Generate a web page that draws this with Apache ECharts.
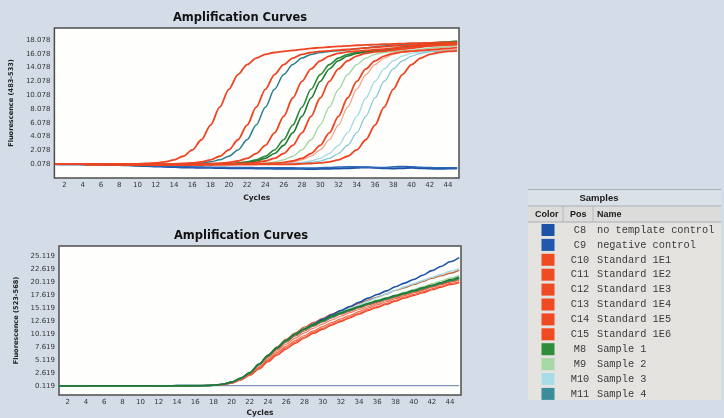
<!DOCTYPE html>
<html><head><meta charset="utf-8">
<script src="https://cdn.jsdelivr.net/npm/echarts@6/dist/echarts.min.js"></script>
<style>html,body{margin:0;padding:0;background:#d4dde7;}#chart{width:724px;height:418px;}</style>
</head><body><div id="chart"></div>
<script>
// ---------- data ----------
const cycles = [1,2,3,4,5,6,7,8,9,10,11,12,13,14,15,16,17,18,19,20,21,22,23,24,25,26,27,28,29,30,31,32,33,34,35,36,37,38,39,40,41,42,43,44,45];
const xTickLabels = [2,4,6,8,10,12,14,16,18,20,22,24,26,28,30,32,34,36,38,40,42,44];
const topYTicks = [0.078,2.078,4.078,6.078,8.078,10.078,12.078,14.078,16.078,18.078];
const botYTicks = [0.119,2.619,5.119,7.619,10.119,12.619,15.119,17.619,20.119,22.619,25.119];

const samplePos = ['C8','C9','C10','C11','C12','C13','C14','C15','M8','M9','M10','M11'];
const sampleNames = ['no template control','negative control','Standard 1E1','Standard 1E2','Standard 1E3','Standard 1E4','Standard 1E5','Standard 1E6','Sample 1','Sample 2','Sample 3','Sample 4'];
const sampleColors = ['#1d52a6','#1f58ac','#f04a22','#f04a22','#f04a22','#f04a22','#f04a22','#f04a22','#2e8c3a','#a6d8a6','#a8dce6','#3b8d9c'];

// top panel (483-533)
const topC8 = [0.06,0.05,0.05,0.04,0.03,0.02,0.0,-0.05,-0.1,-0.15,-0.2,-0.25,-0.3,-0.35,-0.4,-0.42,-0.45,-0.45,-0.48,-0.5,-0.5,-0.52,-0.55,-0.55,-0.58,-0.6,-0.6,-0.6,-0.62,-0.6,-0.58,-0.55,-0.5,-0.45,-0.4,-0.45,-0.5,-0.55,-0.5,-0.45,-0.5,-0.55,-0.6,-0.55,-0.5];
const topC9 = [0.05,0.04,0.04,0.03,0.02,0.0,-0.03,-0.06,-0.1,-0.13,-0.17,-0.2,-0.24,-0.27,-0.3,-0.33,-0.35,-0.37,-0.38,-0.4,-0.4,-0.42,-0.43,-0.44,-0.45,-0.45,-0.46,-0.47,-0.48,-0.45,-0.4,-0.35,-0.3,-0.3,-0.35,-0.4,-0.42,-0.3,-0.25,-0.3,-0.38,-0.42,-0.45,-0.45,-0.45];
const topStd1E6 = [0.08,0.08,0.08,0.07,0.07,0.06,0.06,0.05,0.06,0.13,0.17,0.25,0.41,0.70,1.22,2.13,3.61,5.74,8.33,10.92,13.05,14.5,15.44,15.97,16.25,16.41,16.55,16.7,16.85,16.95,17.05,17.15,17.2,17.3,17.35,17.4,17.45,17.5,17.55,17.6,17.6,17.65,17.7,17.7,17.75];
const topStd1E5 = [0.08,0.08,0.07,0.07,0.06,0.05,0.04,0.03,0.03,0.03,0.04,0.05,0.06,0.13,0.17,0.25,0.41,0.70,1.22,2.13,3.61,5.74,8.33,10.92,13.05,14.5,15.44,15.97,16.25,16.41,16.49,16.6,16.7,16.8,16.9,17.0,17.1,17.2,17.25,17.3,17.35,17.4,17.45,17.5,17.5];
const topSample4 = [0.08,0.08,0.08,0.07,0.07,0.06,0.05,0.04,0.03,0.02,0.02,0.03,0.04,0.05,0.13,0.17,0.25,0.41,0.70,1.22,2.13,3.61,5.74,8.33,10.92,13.05,14.5,15.44,15.97,16.25,16.41,16.49,16.65,16.8,16.95,17.1,17.2,17.3,17.4,17.5,17.6,17.65,17.7,17.75,17.8];
const topStd1E4 = [0.08,0.08,0.07,0.07,0.06,0.05,0.04,0.03,0.02,0.01,0.0,0.0,0.01,0.02,0.03,0.04,0.06,0.15,0.205,0.32,0.53,0.92,1.62,2.79,4.60,7.0,9.66,12.06,13.87,15.05,15.74,16.13,16.34,16.45,16.55,16.65,16.75,16.85,16.95,17.05,17.15,17.25,17.3,17.35,17.4];
const topSample1a = [0.08,0.08,0.08,0.07,0.06,0.05,0.04,0.03,0.02,0.02,0.01,0.01,0.01,0.02,0.03,0.04,0.05,0.06,0.13,0.17,0.25,0.41,0.70,1.22,2.13,3.61,5.74,8.33,10.92,13.05,14.5,15.44,15.97,16.25,16.41,16.49,16.65,16.85,17.05,17.25,17.4,17.55,17.7,17.8,17.9];
const topSample1b = [0.08,0.08,0.08,0.07,0.06,0.05,0.04,0.03,0.02,0.02,0.01,0.01,0.01,0.02,0.03,0.03,0.04,0.05,0.06,0.15,0.205,0.32,0.53,0.92,1.62,2.79,4.60,7.0,9.66,12.06,13.87,15.05,15.74,16.13,16.34,16.45,16.6,16.8,17.0,17.15,17.3,17.45,17.55,17.65,17.7];
const topStd1E3 = [0.08,0.08,0.07,0.07,0.06,0.05,0.04,0.03,0.02,0.01,0.0,-0.01,-0.01,0.0,0.01,0.02,0.03,0.04,0.05,0.06,0.15,0.205,0.32,0.53,0.92,1.62,2.79,4.60,7.0,9.66,12.06,13.87,15.05,15.74,16.13,16.34,16.45,16.6,16.75,16.9,17.05,17.2,17.3,17.4,17.5];
const topSample2 = [0.08,0.08,0.08,0.07,0.07,0.06,0.05,0.04,0.03,0.02,0.02,0.01,0.01,0.01,0.02,0.02,0.03,0.04,0.05,0.05,0.06,0.13,0.17,0.25,0.41,0.70,1.22,2.13,3.61,5.74,8.33,10.92,13.05,14.5,15.44,15.97,16.25,16.41,16.49,16.6,16.75,16.9,17.0,17.1,17.2];
const topStd1E2 = [0.08,0.08,0.07,0.07,0.06,0.05,0.04,0.03,0.02,0.01,0.0,-0.01,-0.02,-0.02,-0.01,0.0,0.01,0.02,0.03,0.04,0.05,0.05,0.06,0.15,0.205,0.32,0.53,0.92,1.62,2.79,4.60,7.0,9.66,12.06,13.87,15.05,15.74,16.13,16.34,16.45,16.55,16.65,16.75,16.85,16.95];
const topStd1E2b = [0.08,0.08,0.07,0.07,0.06,0.05,0.04,0.03,0.02,0.01,0.0,-0.01,-0.02,-0.02,-0.01,0.0,0.01,0.02,0.03,0.04,0.05,0.05,0.06,0.13,0.17,0.25,0.41,0.70,1.22,2.13,3.61,5.74,8.33,10.92,13.05,14.5,15.44,15.97,16.25,16.41,16.49,16.55,16.6,16.65,16.7];
const topSample3a = [0.08,0.08,0.08,0.07,0.07,0.06,0.05,0.04,0.03,0.02,0.02,0.01,0.01,0.01,0.01,0.02,0.02,0.03,0.03,0.04,0.04,0.05,0.05,0.06,0.06,0.15,0.205,0.32,0.53,0.92,1.62,2.79,4.60,7.0,9.66,12.06,13.87,15.05,15.74,16.13,16.34,16.45,16.55,16.6,16.65];
const topSample3b = [0.08,0.08,0.08,0.07,0.07,0.06,0.05,0.04,0.03,0.02,0.02,0.01,0.01,0.01,0.01,0.02,0.02,0.03,0.03,0.04,0.04,0.05,0.05,0.06,0.06,0.06,0.15,0.205,0.32,0.53,0.92,1.62,2.79,4.60,7.0,9.66,12.06,13.87,15.05,15.74,16.13,16.34,16.45,16.5,16.55];
const topStd1E1 = [0.08,0.08,0.07,0.07,0.06,0.05,0.04,0.03,0.02,0.01,0.0,-0.01,-0.02,-0.03,-0.03,-0.02,-0.01,0.0,0.01,0.02,0.03,0.03,0.04,0.04,0.05,0.05,0.06,0.13,0.17,0.25,0.41,0.70,1.22,2.13,3.61,5.74,8.33,10.92,13.05,14.5,15.44,15.97,16.25,16.41,16.49];

// bottom panel (523-568)
const botC8 = [0.119,0.119,0.119,0.119,0.119,0.119,0.119,0.119,0.119,0.119,0.119,0.119,0.119,0.119,0.119,0.119,0.119,0.119,0.119,0.119,0.119,0.119,0.119,0.119,0.119,0.119,0.119,0.119,0.119,0.119,0.119,0.119,0.119,0.119,0.119,0.119,0.119,0.119,0.119,0.119,0.119,0.119,0.119,0.119,0.119];
const botC9 = [0.12,0.12,0.12,0.12,0.11,0.11,0.11,0.11,0.11,0.11,0.12,0.12,0.12,0.13,0.13,0.14,0.15,0.2,0.4,0.8,1.5,2.6,4.2,5.9,7.4,8.8,10.0,11.0,12.0,12.9,13.8,14.6,15.4,16.2,17.0,17.7,18.4,19.2,19.9,20.6,21.4,22.3,23.1,24.0,24.8];
const botStd1E1 = [0.12,0.12,0.12,0.12,0.11,0.11,0.11,0.11,0.11,0.11,0.12,0.12,0.12,0.13,0.13,0.14,0.15,0.18,0.3,0.6,1.2,2.1,3.3,4.7,6.0,7.2,8.3,9.3,10.2,11.0,11.8,12.5,13.2,13.9,14.6,15.2,15.8,16.4,17.0,17.5,18.0,18.6,19.1,19.6,20.0];
const botStd1E2 = [0.12,0.12,0.12,0.12,0.11,0.11,0.11,0.11,0.11,0.11,0.12,0.12,0.12,0.13,0.13,0.14,0.15,0.18,0.32,0.65,1.3,2.3,3.6,5.1,6.5,7.7,8.8,9.8,10.7,11.5,12.3,13.0,13.7,14.4,15.1,15.7,16.3,16.9,17.5,18.0,18.5,19.1,19.6,20.1,20.5];
const botStd1E3 = [0.12,0.12,0.12,0.12,0.11,0.11,0.11,0.11,0.11,0.11,0.12,0.12,0.12,0.13,0.13,0.14,0.15,0.2,0.38,0.75,1.45,2.5,4.0,5.6,7.1,8.5,9.7,10.7,11.6,12.4,13.2,13.9,14.5,15.1,15.7,16.2,16.7,17.2,17.7,18.2,18.7,19.2,19.7,20.2,20.7];
const botStd1E4 = [0.12,0.12,0.12,0.12,0.11,0.11,0.11,0.11,0.11,0.11,0.12,0.12,0.12,0.13,0.13,0.14,0.15,0.2,0.4,0.8,1.5,2.6,4.2,6.0,7.6,9.1,10.3,11.4,12.3,13.1,13.9,14.6,15.3,16.0,16.6,17.2,17.8,18.5,19.0,19.6,20.2,20.8,21.3,21.8,22.4];
const botStd1E5 = [0.12,0.12,0.12,0.12,0.11,0.11,0.11,0.11,0.11,0.11,0.12,0.12,0.12,0.13,0.13,0.14,0.15,0.19,0.36,0.7,1.35,2.4,3.8,5.3,6.8,8.1,9.3,10.3,11.2,12.0,12.8,13.5,14.2,14.8,15.4,16.0,16.6,17.1,17.7,18.2,18.8,19.3,19.8,20.3,20.7];
const botStd1E6 = [0.12,0.12,0.12,0.12,0.11,0.11,0.11,0.11,0.11,0.11,0.12,0.12,0.12,0.13,0.13,0.14,0.15,0.18,0.3,0.62,1.25,2.2,3.45,4.9,6.2,7.4,8.5,9.5,10.4,11.2,12.0,12.7,13.4,14.1,14.8,15.4,16.0,16.6,17.2,17.7,18.2,18.8,19.3,19.8,20.2];
const botSample1a = [0.12,0.12,0.12,0.12,0.11,0.11,0.11,0.11,0.11,0.11,0.12,0.12,0.12,0.13,0.13,0.14,0.15,0.2,0.4,0.8,1.5,2.6,4.2,5.9,7.4,8.8,10.0,11.0,11.8,12.6,13.4,14.1,14.7,15.3,15.9,16.4,16.9,17.4,17.9,18.4,18.9,19.4,19.9,20.4,20.9];
const botSample1b = [0.12,0.12,0.12,0.12,0.11,0.11,0.11,0.11,0.11,0.11,0.12,0.12,0.12,0.13,0.13,0.14,0.15,0.2,0.42,0.85,1.6,2.7,4.3,6.0,7.5,8.9,10.1,11.1,11.9,12.7,13.5,14.2,14.8,15.4,16.0,16.5,17.0,17.5,18.0,18.5,19.0,19.5,20.0,20.6,21.1];
const botSample2 = [0.12,0.12,0.12,0.12,0.11,0.11,0.11,0.11,0.11,0.11,0.12,0.12,0.12,0.13,0.13,0.14,0.15,0.2,0.4,0.8,1.5,2.6,4.2,5.9,7.5,8.9,10.1,11.1,12.0,12.8,13.6,14.3,14.9,15.5,16.1,16.6,17.1,17.6,18.1,18.7,19.2,19.8,20.3,20.9,21.4];
const botSample3 = [0.12,0.12,0.12,0.12,0.11,0.11,0.11,0.11,0.11,0.11,0.12,0.12,0.12,0.13,0.13,0.14,0.15,0.2,0.4,0.8,1.5,2.6,4.1,5.8,7.3,8.7,9.9,10.9,11.8,12.6,13.4,14.2,15.0,15.7,16.4,17.1,17.8,18.5,19.2,19.8,20.4,21.0,21.6,22.2,22.7];
const botSample4 = [0.12,0.12,0.12,0.12,0.11,0.11,0.11,0.11,0.11,0.11,0.12,0.12,0.12,0.13,0.13,0.14,0.15,0.2,0.4,0.8,1.5,2.6,4.2,5.9,7.4,8.8,9.9,10.9,11.7,12.5,13.3,14.0,14.6,15.2,15.8,16.3,16.8,17.3,17.8,18.3,18.8,19.3,19.8,20.3,20.8];

// ---------- build ----------
const RED = '#ee4422';
const topCurves = [
  ['C8', topC8, '#1d52a6', 2], ['C9', topC9, '#2d68b8', 1.5],
  ['M9', topSample2, '#9fd49f', 1.3], ['M10', topSample3a, '#a3d9e4', 1.3], ['M10', topSample3b, '#7fc4d3', 1.2],
  ['C11', topStd1E2b, '#f4a08a', 1.2],
  ['M11', topSample4, '#2a7f8e', 1.5], ['M8', topSample1a, '#2a8a3a', 1.6], ['M8', topSample1b, '#1f7a33', 1.6],
  ['C15', topStd1E6, RED, 1.8], ['C14', topStd1E5, RED, 1.8], ['C13', topStd1E4, RED, 1.8],
  ['C12', topStd1E3, RED, 1.8], ['C11', topStd1E2, RED, 1.8], ['C10', topStd1E1, RED, 1.8]
];
const botCurves = [
  ['C8', botC8, '#7f97bf', 1.2],
  ['C10', botStd1E1, RED, 1.3], ['C11', botStd1E2, '#f2664a', 1.2], ['C12', botStd1E3, RED, 1.2],
  ['C13', botStd1E4, '#c8643a', 1.3], ['C14', botStd1E5, '#f07a60', 1.1], ['C15', botStd1E6, '#f25a3a', 1.1],
  ['M9', botSample2, '#9fd49f', 1.2], ['M11', botSample4, '#3b8d9c', 1.2],
  ['M10', botSample3, '#a3d9e4', 1.3], ['C9', botC9, '#1d52a6', 1.6],
  ['M8', botSample1a, '#2a8a3a', 1.6], ['M8', botSample1b, '#1f7a33', 1.4]
];
[...topCurves, ...botCurves].forEach(c => { if (c[1].length !== cycles.length) throw new Error(c[0] + ' length ' + c[1].length); });

function mkSeries(list, idx) {
  return list.map(([name, vals, color, w]) => ({
    type: 'line', name, xAxisIndex: idx, yAxisIndex: idx,
    data: cycles.map((c, i) => [c, vals[i]]),
    showSymbol: false, symbol: 'none', smooth: 0.3, smoothMonotone: 'x',
    lineStyle: { color, width: w }, itemStyle: { color }, silent: true, z: 2
  }));
}

const labelFont = { fontFamily: 'DejaVu Sans', fontSize: 7, color: '#333' };
const nameFont = { fontFamily: 'DejaVu Sans', fontSize: 6.6, fontWeight: 'bold', color: '#222' };
function xAx(idx, min, max, gap) {
  return { type: 'value', gridIndex: idx, min, max,
    axisLine: { show: false }, axisTick: { show: false }, splitLine: { show: false },
    axisLabel: Object.assign({ customValues: xTickLabels, margin: 4 }, labelFont),
    name: 'Cycles', nameLocation: 'middle', nameGap: gap,
    nameTextStyle: Object.assign({}, nameFont, { fontSize: 7.5 }) };
}
function yAx(idx, min, max, ticks, name, gap) {
  return { type: 'value', gridIndex: idx, min, max,
    axisLine: { show: false }, axisTick: { show: false }, splitLine: { show: false },
    axisLabel: Object.assign({ customValues: ticks, margin: 4, formatter: v => v.toFixed(3) }, labelFont),
    name, nameLocation: 'middle', nameGap: gap, nameRotate: 90, nameTextStyle: nameFont };
}

// legend table (graphic)
const tbl = { x: 528, y: 189, w: 193, h: 211, row0: 230, rowH: 14.9 };
const g = [];
g.push({ type: 'rect', shape: { x: tbl.x, y: tbl.y, width: tbl.w, height: tbl.h }, style: { fill: '#e4e3e0' } });
g.push({ type: 'rect', shape: { x: tbl.x, y: tbl.y, width: tbl.w, height: 17 }, style: { fill: '#dbe1e8' } });
g.push({ type: 'rect', shape: { x: tbl.x, y: tbl.y + 17, width: tbl.w, height: 16 }, style: { fill: '#dcdcdb' } });
[tbl.y + 0.5, tbl.y + 17, tbl.y + 33].forEach(yy => g.push({ type: 'line', shape: { x1: tbl.x, y1: yy, x2: tbl.x + tbl.w, y2: yy }, style: { stroke: '#a8adb3', lineWidth: 1 } }));
[563, 593].forEach(xx => g.push({ type: 'line', shape: { x1: xx, y1: tbl.y + 17, x2: xx, y2: tbl.y + 33 }, style: { stroke: '#b5b8bc', lineWidth: 1 } }));
const hdr = { fontFamily: 'Liberation Sans', fontSize: 9, fontWeight: 'bold', fill: '#1a1a1a', verticalAlign: 'middle' };
g.push({ type: 'text', style: Object.assign({ text: 'Samples', x: 599, y: tbl.y + 9, align: 'center' }, hdr, { fontSize: 9.5 }) });
g.push({ type: 'text', style: Object.assign({ text: 'Color', x: 535, y: tbl.y + 25.5, align: 'left' }, hdr) });
g.push({ type: 'text', style: Object.assign({ text: 'Pos', x: 570, y: tbl.y + 25.5, align: 'left' }, hdr) });
g.push({ type: 'text', style: Object.assign({ text: 'Name', x: 597, y: tbl.y + 25.5, align: 'left' }, hdr) });
samplePos.forEach((p, i) => {
  const cy = tbl.row0 + i * tbl.rowH;
  g.push({ type: 'rect', shape: { x: 541.5, y: cy - 6, width: 13, height: 12 }, style: { fill: sampleColors[i] } });
  const ts = { fontFamily: 'Liberation Mono', fontSize: 10.3, fill: '#3a3a3a', verticalAlign: 'middle' };
  g.push({ type: 'text', style: Object.assign({ text: p, x: 580, y: cy, align: 'center' }, ts) });
  g.push({ type: 'text', style: Object.assign({ text: sampleNames[i], x: 597, y: cy, align: 'left' }, ts) });
});

const titleStyle = { fontFamily: 'DejaVu Sans', fontSize: 11.5, fontWeight: 'bold', color: '#111' };
const option = {
  animation: false,
  backgroundColor: '#d4dde7',
  title: [
    { text: 'Amplification Curves', left: 235, top: 7, textAlign: 'center', textStyle: titleStyle },
    { text: 'Amplification Curves', left: 236, top: 225, textAlign: 'center', textStyle: titleStyle }
  ],
  grid: [
    { left: 53, top: 28, width: 406, height: 150, show: true, backgroundColor: '#fefefc', borderColor: '#4d4d4d', borderWidth: 1.5 },
    { left: 59, top: 246, width: 402, height: 149, show: true, backgroundColor: '#fefefc', borderColor: '#4d4d4d', borderWidth: 1.5 }
  ],
  xAxis: [xAx(0, 0.9, 45.2, 16), xAx(1, 1.04, 45.2, 14)],
  yAxis: [yAx(0, -1.93, 19.8, topYTicks, 'Fluorescence (483-533)', 35), yAx(1, -1.67, 27.05, botYTicks, 'Fluorescence (523-568)', 35)],
  series: [...mkSeries(topCurves, 0), ...mkSeries(botCurves, 1)],
  graphic: g
};
const chart = echarts.init(document.getElementById('chart'), null, { renderer: 'canvas' });
chart.setOption(option);
</script>
</body></html>
